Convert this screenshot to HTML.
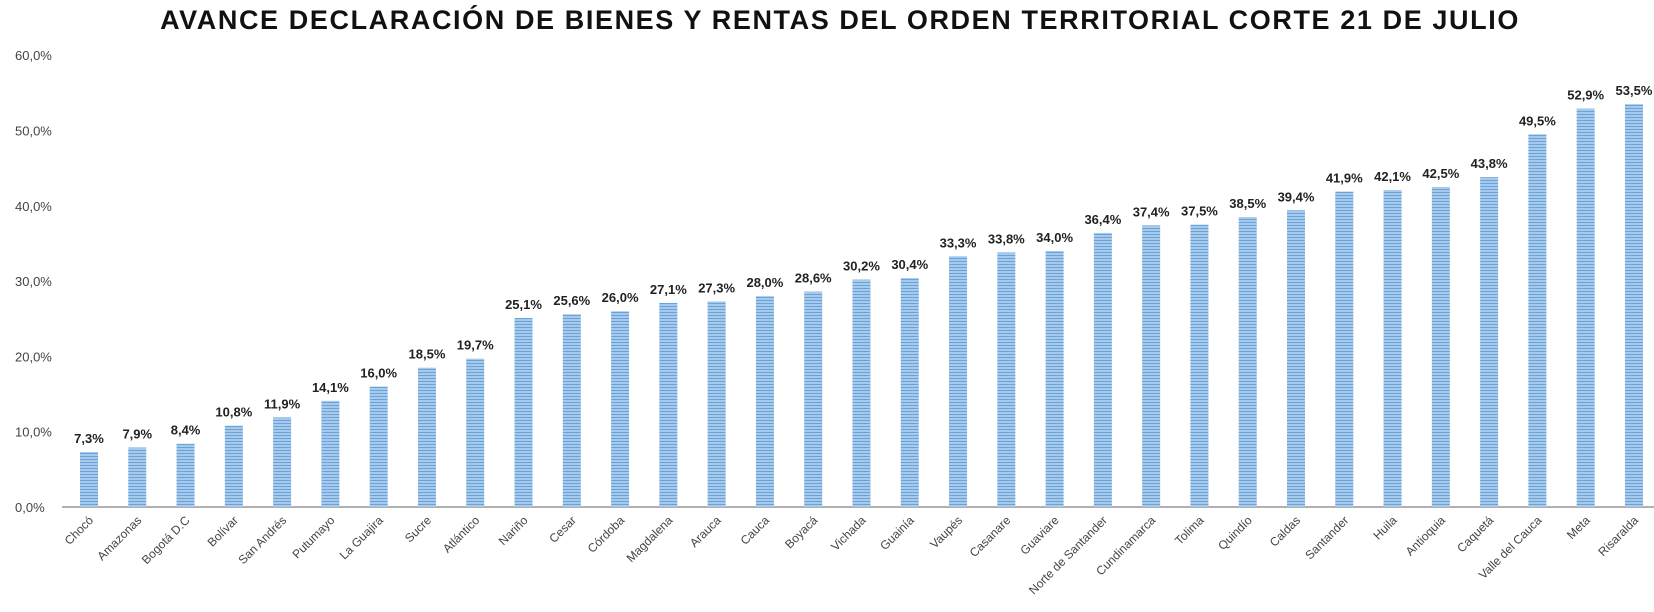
<!DOCTYPE html>
<html><head><meta charset="utf-8"><style>
html,body{margin:0;padding:0;background:#fff;}
svg{display:block;font-family:"Liberation Sans",sans-serif;}
</style></head><body>
<svg id="c" width="1654" height="612" xmlns="http://www.w3.org/2000/svg">
<defs>
<pattern id="p" width="4" height="3" patternUnits="userSpaceOnUse">
<rect width="4" height="3" fill="#a6c9ec"/>
<rect width="4" height="1" fill="#6aa3d8"/>
</pattern>
</defs>
<text x="840" y="29" text-anchor="middle" font-size="27" font-weight="bold" letter-spacing="1.6" fill="#111">AVANCE DECLARACIÓN DE BIENES Y RENTAS DEL ORDEN TERRITORIAL CORTE 21 DE JULIO</text>
<g id="ax" font-size="13" fill="#444"></g>
<line x1="62" y1="507" x2="1654" y2="507" stroke="#b0b0b0" stroke-width="2"/>
<g id="bars"></g>
</svg>
<script>
var names=["Chocó","Amazonas","Bogotá D.C","Bolívar","San Andrés","Putumayo","La Guajira","Sucre","Atlántico","Nariño","Cesar","Córdoba","Magdalena","Arauca","Cauca","Boyacá","Vichada","Guainía","Vaupés","Casanare","Guaviare","Norte de Santander","Cundinamarca","Tolima","Quindío","Caldas","Santander","Huila","Antioquia","Caquetá","Valle del Cauca","Meta","Risaralda"];
var vals=[7.3,7.9,8.4,10.8,11.9,14.1,16.0,18.5,19.7,25.1,25.6,26.0,27.1,27.3,28.0,28.6,30.2,30.4,33.3,33.8,34.0,36.4,37.4,37.5,38.5,39.4,41.9,42.1,42.5,43.8,49.5,52.9,53.5];
var k=7.53,base=507,s="";
for(var t=0;t<=60;t+=10){s+='<text x="15" y="'+(base-t*k+5)+'">'+t+',0%</text>';}
document.getElementById("ax").innerHTML=s;
s="";
for(var i=0;i<names.length;i++){
var cx=89+48.28*i,h=vals[i]*k,y=base-h;
s+='<rect x="'+(cx-9)+'" y="'+y+'" width="18" height="'+h+'" fill="url(#p)"/>';
s+='<text x="'+cx+'" y="'+(y-9)+'" text-anchor="middle" font-size="13" font-weight="bold" fill="#222">'+vals[i].toFixed(1).replace(".",",")+'%</text>';
s+='<text transform="translate('+(cx+5)+',521) rotate(-45)" text-anchor="end" font-size="12" fill="#444">'+names[i]+'</text>';
}
document.getElementById("bars").innerHTML=s;
</script>
</body></html>
